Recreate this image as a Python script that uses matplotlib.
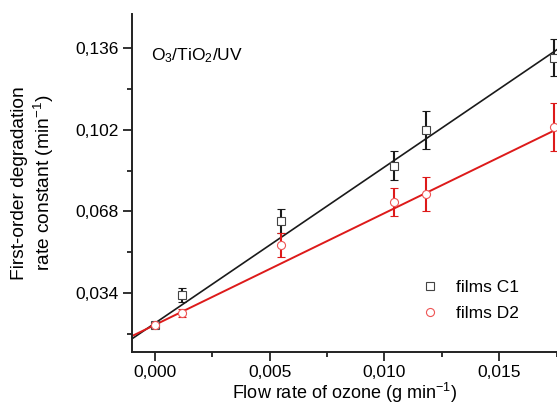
#!/usr/bin/env python3
"""First-order degradation rate constant vs ozone flow rate (O3/TiO2/UV)."""

import matplotlib
matplotlib.use("Agg")
import matplotlib.pyplot as plt
from matplotlib.ticker import FixedLocator, FuncFormatter

# data
flow_rate = [0.0, 0.0012, 0.0055, 0.0104, 0.0118, 0.0174]

c1_rate = [0.0208, 0.0333, 0.0641, 0.0871, 0.1020, 0.1320]
c1_err = [0.0008, 0.0028, 0.0050, 0.0060, 0.0080, 0.0078]

d2_rate = [0.0208, 0.0257, 0.0541, 0.0719, 0.0752, 0.1031]
d2_err = [0.0008, 0.0015, 0.0050, 0.0058, 0.0071, 0.0100]

# linear fits as drawn in the figure (slope, intercept)
c1_fit = (6.50, 0.0215)
d2_fit = (4.65, 0.0208)

x_ticks = [0.0, 0.005, 0.010, 0.015]
y_ticks = [0.034, 0.068, 0.102, 0.136]

RED = "#dd1a1a"
BLACK = "#1a1a1a"

plt.rcParams["font.family"] = ["Liberation Sans", "DejaVu Sans"]
plt.rcParams["mathtext.fontset"] = "custom"
plt.rcParams["mathtext.rm"] = "Liberation Sans"
plt.rcParams["mathtext.it"] = "Liberation Sans:italic"

fig = plt.figure(figsize=(5.57, 4.05), dpi=100)
ax = fig.add_axes([0.237, 0.132, 0.763, 0.834])

xlim = (-0.00100, 0.01752)
ylim = (0.0097, 0.1503)

# fit lines spanning the whole axis
for (slope, icpt), col, lw in [(c1_fit, BLACK, 1.2), (d2_fit, RED, 1.4)]:
    ax.plot(list(xlim), [icpt + slope * xlim[0], icpt + slope * xlim[1]],
            "-", color=col, linewidth=lw, zorder=2)

ax.errorbar(flow_rate, c1_rate, yerr=c1_err, fmt="s", color=BLACK,
            markersize=5.2, markerfacecolor="white", markeredgecolor="#444444",
            markeredgewidth=0.8, elinewidth=1.5, capsize=3.2, capthick=1.5,
            zorder=3, label="films C1")
ax.errorbar(flow_rate, d2_rate, yerr=d2_err, fmt="o", color=RED,
            markersize=5.8, markerfacecolor="white", markeredgecolor="#ee5555",
            markeredgewidth=0.8, elinewidth=1.5, capsize=3.2, capthick=1.5,
            zorder=3, label="films D2")

ax.set_xlim(*xlim)
ax.set_ylim(*ylim)

ax.xaxis.set_major_locator(FixedLocator(x_ticks))
ax.xaxis.set_minor_locator(FixedLocator([0.0025, 0.0075, 0.0125, 0.0175]))
ax.yaxis.set_major_locator(FixedLocator(y_ticks))
ax.yaxis.set_minor_locator(FixedLocator([0.017, 0.051, 0.085, 0.119]))

comma = lambda fmt: FuncFormatter(lambda v, pos: (fmt % v).replace(".", ","))
ax.xaxis.set_major_formatter(comma("%.3f"))
ax.yaxis.set_major_formatter(comma("%.3f"))

ax.tick_params(which="major", direction="out", length=6.5, width=1.3,
               labelsize=12.5, pad=3, color="#222222")
ax.tick_params(which="minor", direction="out", length=3.5, width=1.3,
               color="#222222")

for side in ["top", "right"]:
    ax.spines[side].set_visible(False)
for side in ["left", "bottom"]:
    ax.spines[side].set_linewidth(1.4)
    ax.spines[side].set_color("#222222")

ax.set_xlabel("Flow rate of ozone (g min$^{-1}$)", fontsize=13, labelpad=1)
ax.set_ylabel("First-order degradation\nrate constant (min$^{-1}$)",
              fontsize=13.8, labelpad=14)

ax.text(0.045, 0.905, "O$_3$/TiO$_2$/UV", transform=ax.transAxes,
        fontsize=12.5, ha="left", va="top")

handles, labels = ax.get_legend_handles_labels()
handles = [h[0] for h in handles]
ax.legend(handles, labels, loc="lower left", bbox_to_anchor=(0.645, 0.045),
          frameon=False, fontsize=12.5, handlelength=1.0, handletextpad=1.0,
          labelspacing=0.6, numpoints=1)

fig.savefig("out.png", dpi=100)
